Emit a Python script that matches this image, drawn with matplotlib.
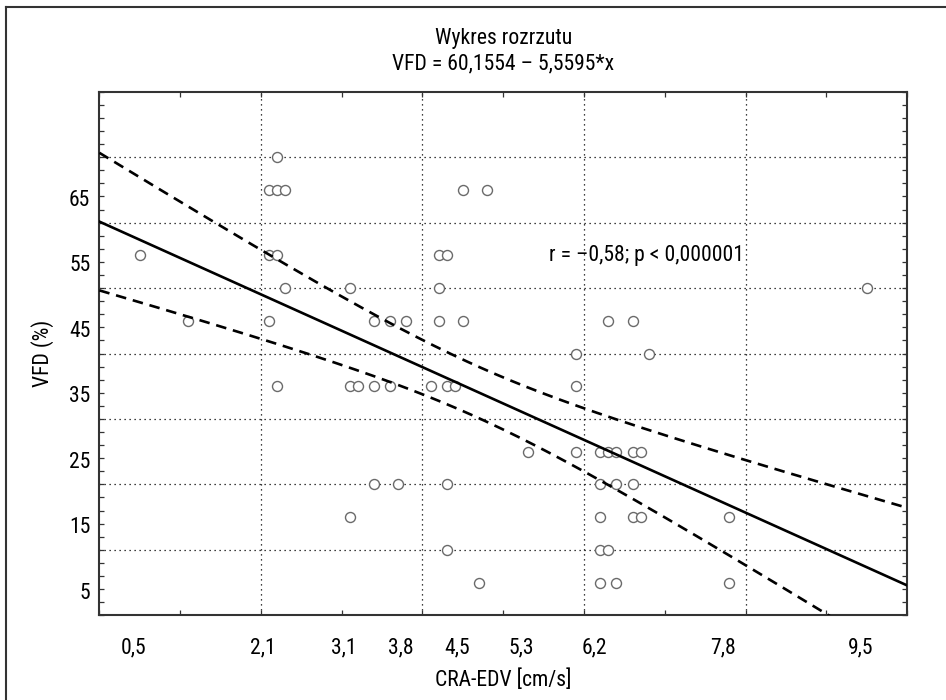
import numpy as np
import matplotlib
matplotlib.use('Agg')
import matplotlib.pyplot as plt
from matplotlib import font_manager
from matplotlib.lines import Line2D
from matplotlib.transforms import ScaledTranslation

# narrowest sans family that is installed
installed = {f.name for f in font_manager.fontManager.ttflist}
family = 'DejaVu Sans'
for name in ['Liberation Sans Narrow', 'DejaVu Sans Condensed', 'Roboto Condensed',
             'Nimbus Sans Narrow', 'Arial Narrow', 'Roboto']:
    if name in installed:
        family = name
        break
plt.rcParams['font.family'] = [family, 'DejaVu Sans']
fs = 15.6
plt.rcParams['font.size'] = fs

# data (CRA-EDV [cm/s], VFD %)
cra_edv = [2.2,
           2.1, 2.2, 2.3, 4.5, 4.8,
           0.5, 2.1, 2.2, 4.2, 4.3,
           2.3, 3.1, 4.2, 9.5,
           1.1, 2.1, 3.4, 3.6, 3.8, 4.2, 4.5, 6.3, 6.6,
           5.9, 6.8,
           2.2, 3.1, 3.2, 3.4, 3.6, 4.1, 4.3, 4.4, 5.9,
           5.3, 5.9, 6.2, 6.3, 6.4, 6.6, 6.7,
           3.4, 3.7, 4.3, 6.2, 6.4, 6.6,
           3.1, 6.2, 6.6, 6.7, 7.8,
           4.3, 6.2, 6.3,
           4.7, 6.2, 6.4, 7.8]
vfd = [70,
       65, 65, 65, 65, 65,
       55, 55, 55, 55, 55,
       50, 50, 50, 50,
       45, 45, 45, 45, 45, 45, 45, 45, 45,
       40, 40,
       35, 35, 35, 35, 35, 35, 35, 35, 35,
       25, 25, 25, 25, 25, 25, 25,
       20, 20, 20, 20, 20, 20,
       15, 15, 15, 15, 15,
       10, 10, 10,
       5, 5, 5, 5]

intercept = 60.1554
slope = -5.5595
t_crit = 2.00

x_ticks = [0.5, 2.1, 3.1, 3.8, 4.5, 5.3, 6.2, 7.8, 9.5]
x_ticklabels = ['0,5', '2,1', '3,1', '3,8', '4,5', '5,3', '6,2', '7,8', '9,5']
y_ticks = [5, 15, 25, 35, 45, 55, 65]
x_grid = [2, 4, 6, 8]
y_grid = [10, 20, 30, 40, 50, 60, 70]

x = np.array(cra_edv)
y = np.array(vfd)
n = len(x)

# regression line and 95% confidence band
xx = np.linspace(0, 10, 300)
yy = intercept + slope * xx
resid = y - (intercept + slope * x)
s = np.sqrt(np.sum(resid**2) / (n - 2))
sxx = np.sum((x - x.mean())**2)
hw = t_crit * s * np.sqrt(1.0 / n + (xx - x.mean())**2 / sxx)

fig = plt.figure(figsize=(9.46, 7.0), dpi=100)
ax = fig.add_axes([0.105, 0.121, 0.854, 0.748])

for gx in x_grid:
    ax.axvline(gx, color='black', lw=0.9, ls=(0, (1, 3)), zorder=1)
for gy in y_grid:
    ax.axhline(gy, color='black', lw=0.9, ls=(0, (1, 3)), zorder=1)

ax.plot(x, y, 'o', mfc='white', mec='#6a6a6a', mew=1.0, ms=7.2, zorder=3)
ax.plot(xx, yy, color='black', lw=1.9, zorder=4)
ax.plot(xx, yy + hw, color='black', lw=1.9, dashes=(4, 2.6), zorder=4)
ax.plot(xx, yy - hw, color='black', lw=1.9, dashes=(4, 2.6), zorder=4)

ax.set_xlim(0, 10)
ax.set_ylim(0, 80)

ax.set_xticks(x_ticks)
ax.set_xticklabels(x_ticklabels)
ax.set_yticks(y_ticks)
ax.set_yticklabels([str(v) for v in y_ticks])
ax.set_xticks(np.arange(0, 10.01, 1), minor=True)
ax.set_yticks(np.arange(0, 80.01, 2), minor=True)
ax.tick_params(which='major', length=0, pad=16, labelsize=fs)
ax.tick_params(axis='y', which='major', pad=6.5)
ax.tick_params(which='minor', direction='in', length=3.5, width=0.9,
               top=True, right=True, color='#333333')

off_x = ScaledTranslation(-6 / 100, 0, fig.dpi_scale_trans)
for lab in ax.get_xticklabels():
    lab.set_transform(lab.get_transform() + off_x)
for lab in ax.get_yticklabels():
    lab.set_verticalalignment('top')

for sp in ax.spines.values():
    sp.set_color('#333333')
    sp.set_linewidth(1.5)

ax.set_title('Wykres rozrzutu\nVFD = 60,1554 \u2013 5,5595*x', fontsize=fs,
             linespacing=1.3, pad=16)
ax.set_xlabel('CRA-EDV [cm/s]', fontsize=fs)
ax.xaxis.set_label_coords(0.5, -0.104)
ax.set_ylabel('VFD (%)', fontsize=fs)
ax.yaxis.set_label_coords(-0.056, 0.5)

ax.text(5.57, 55, 'r = \u20130,58; p < 0,000001', fontsize=fs,
        ha='left', va='center', zorder=5)

# outer frame of the figure
fig.add_artist(Line2D([6 / 946, 6 / 946], [0, 1 - 7 / 700], color='#333333',
                      lw=1.5, transform=fig.transFigure))
fig.add_artist(Line2D([6 / 946, 1], [1 - 7 / 700, 1 - 7 / 700], color='#333333',
                      lw=1.5, transform=fig.transFigure))

fig.savefig('out.png', dpi=100)
